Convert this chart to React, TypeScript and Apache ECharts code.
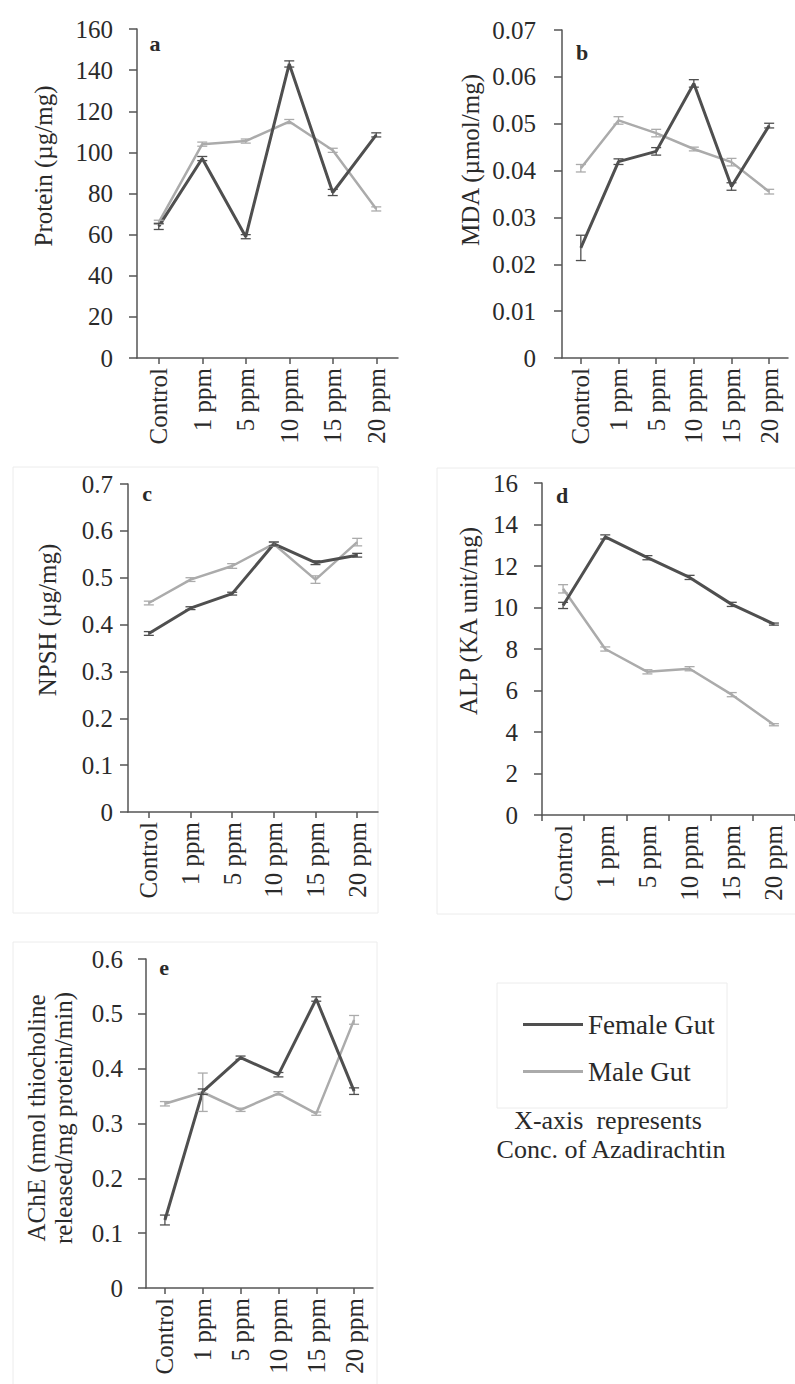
import React, { useEffect, useRef } from "react";
import * as echarts from "echarts";

const categories = ["Control", "1 ppm", "5 ppm", "10 ppm", "15 ppm", "20 ppm"];

const proteinFemale = [64, 97, 59, 143, 80.5, 108.5];
const proteinMale = [66, 104, 105.5, 115, 101, 72.5];
const proteinFemaleErr = [1.5, 1, 1, 1.5, 1.5, 1];
const proteinMaleErr = [1, 1, 1, 1, 1, 1];

const mdaFemale = [0.0235, 0.0419, 0.0441, 0.0586, 0.0366, 0.0496];
const mdaMale = [0.0405, 0.0507, 0.048, 0.0446, 0.0418, 0.0355];
const mdaFemaleErr = [0.0027, 0.0006, 0.0008, 0.0008, 0.0008, 0.0005];
const mdaMaleErr = [0.0008, 0.0008, 0.0008, 0.0004, 0.0008, 0.0005];

const npshFemale = [0.381, 0.435, 0.466, 0.572, 0.532, 0.548];
const npshMale = [0.446, 0.496, 0.525, 0.572, 0.496, 0.576];
const npshFemaleErr = [0.004, 0.003, 0.003, 0.004, 0.004, 0.004];
const npshMaleErr = [0.004, 0.004, 0.005, 0.005, 0.008, 0.008];

const alpFemale = [10.1, 13.4, 12.4, 11.45, 10.15, 9.2];
const alpMale = [10.9, 8.0, 6.9, 7.05, 5.8, 4.35];
const alpFemaleErr = [0.15, 0.1, 0.1, 0.1, 0.1, 0.05];
const alpMaleErr = [0.2, 0.1, 0.1, 0.1, 0.1, 0.05];

const acheFemale = [0.124, 0.358, 0.42, 0.389, 0.527, 0.359];
const acheMale = [0.336, 0.357, 0.325, 0.355, 0.318, 0.489];
const acheFemaleErr = [0.009, 0.005, 0.003, 0.004, 0.004, 0.006];
const acheMaleErr = [0.004, 0.035, 0.003, 0.003, 0.003, 0.008];

const seriesNames = ["Female Gut", "Male Gut"];

const FONT = "Liberation Serif";
const TEXT = "#2a2a2a";
const AXIS = "#555555";
const FEMALE = "#4f4f4f";
const MALE = "#ababab";

const panels = [
  { letter: "a", grid: { left: 137, top: 29, width: 261, height: 329 }, max: 160, interval: 20, dec: 0, margin: 24, between: false,
    female: proteinFemale, male: proteinMale, fErr: proteinFemaleErr, mErr: proteinMaleErr,
    title: "Protein (µg/mg)", titlePos: [43, 166], letterPos: [155, 43] },
  { letter: "b", grid: { left: 562, top: 30, width: 226, height: 328 }, max: 0.07, interval: 0.01, dec: 2, margin: 26, between: false,
    female: mdaFemale, male: mdaMale, fErr: mdaFemaleErr, mErr: mdaMaleErr,
    title: "MDA (µmol/mg)", titlePos: [470, 160], letterPos: [582, 52] },
  { letter: "c", grid: { left: 128, top: 484, width: 250, height: 328 }, max: 0.7, interval: 0.1, dec: 1, margin: 15, between: false,
    female: npshFemale, male: npshMale, fErr: npshFemaleErr, mErr: npshMaleErr,
    title: "NPSH (µg/mg)", titlePos: [47, 620], letterPos: [147, 493] },
  { letter: "d", grid: { left: 542, top: 483, width: 260, height: 332 }, max: 16, interval: 2, dec: 0, margin: 24, between: true,
    female: alpFemale, male: alpMale, fErr: alpFemaleErr, mErr: alpMaleErr,
    title: "ALP (KA unit/mg)", titlePos: [468, 621], letterPos: [562, 495] },
  { letter: "e", grid: { left: 146, top: 959, width: 227, height: 329 }, max: 0.6, interval: 0.1, dec: 1, margin: 23, between: false,
    female: acheFemale, male: acheMale, fErr: acheFemaleErr, mErr: acheMaleErr,
    title: "AChE (nmol thiocholine\nreleased/mg protein/min)", titlePos: [50, 1118], letterPos: [164, 967] },
];

function errorSeries(idx: number, values: number[], errs: number[], color: string, name: string) {
  return {
    type: "custom",
    name,
    xAxisIndex: idx,
    yAxisIndex: idx,
    z: 4,
    silent: true,
    encode: { x: 0, y: [1, 2] },
    data: values.map((v, j) => [j, v - errs[j], v + errs[j]]),
    renderItem: (params: any, api: any) => {
      const j = api.value(0);
      const lo = api.coord([j, api.value(1)]);
      const hi = api.coord([j, api.value(2)]);
      const w = 5;
      const st = { stroke: color, lineWidth: 1.3 };
      return {
        type: "group",
        children: [
          { type: "line", shape: { x1: lo[0], y1: lo[1], x2: hi[0], y2: hi[1] }, style: st },
          { type: "line", shape: { x1: lo[0] - w, y1: lo[1], x2: lo[0] + w, y2: lo[1] }, style: st },
          { type: "line", shape: { x1: hi[0] - w, y1: hi[1], x2: hi[0] + w, y2: hi[1] }, style: st },
        ],
      };
    },
  };
}

export default function App() {
  const ref = useRef<HTMLDivElement>(null);
  useEffect(() => {
    if (!ref.current) return;
    const chart = echarts.init(ref.current, null, { renderer: "svg" });

    const grids = panels.map((p) => ({ ...p.grid, containLabel: false }));
    const xAxes = panels.map((p, i) => ({
      type: "category",
      gridIndex: i,
      data: categories,
      boundaryGap: true,
      axisLine: { lineStyle: { color: AXIS, width: 1.5 } },
      axisTick: { show: true, alignWithLabel: !p.between, length: 6, lineStyle: { color: AXIS, width: 1.5 } },
      axisLabel: { interval: 0, rotate: 90, margin: 10, fontSize: 25, fontFamily: FONT, color: TEXT },
      splitLine: { show: false },
    }));
    const yAxes = panels.map((p, i) => ({
      type: "value",
      gridIndex: i,
      min: 0,
      max: p.max,
      interval: p.interval,
      axisLine: { show: true, lineStyle: { color: AXIS, width: 1.5 } },
      axisTick: { show: true, length: 8, lineStyle: { color: AXIS, width: 1.5 } },
      axisLabel: {
        margin: p.margin,
        fontSize: 25,
        fontFamily: FONT,
        color: TEXT,
        formatter: (v: number) => (Math.abs(v) < 1e-12 ? "0" : v.toFixed(p.dec)),
      },
      splitLine: { show: false },
    }));

    const series: any[] = [];
    panels.forEach((p, i) => {
      series.push({
        type: "line", name: seriesNames[1], xAxisIndex: i, yAxisIndex: i, data: p.male,
        symbol: "none", color: MALE, lineStyle: { color: MALE, width: 2.5 }, z: 2,
      });
      series.push({
        type: "line", name: seriesNames[0], xAxisIndex: i, yAxisIndex: i, data: p.female,
        symbol: "none", color: FEMALE, lineStyle: { color: FEMALE, width: 3 }, z: 3,
      });
      series.push(errorSeries(i, p.male, p.mErr, MALE, "errM" + i));
      series.push(errorSeries(i, p.female, p.fErr, FEMALE, "errF" + i));
    });

    const graphics: any[] = [];
    const frames = [
      [13, 467, 365, 446],
      [437, 468, 370, 446],
      [13, 942, 364, 450],
      [497, 983, 230, 125],
    ];
    frames.forEach(([x, y, w, h]) =>
      graphics.push({ type: "rect", shape: { x, y, width: w, height: h }, style: { fill: "none", stroke: "#ececec", lineWidth: 1 }, silent: true })
    );
    panels.forEach((p) => {
      graphics.push({
        type: "text",
        x: p.titlePos[0],
        y: p.titlePos[1],
        rotation: Math.PI / 2,
        style: { text: p.title, fontSize: 25, lineHeight: 27, fontFamily: FONT, fill: TEXT, align: "center", verticalAlign: "middle" },
      });
      graphics.push({
        type: "text",
        x: p.letterPos[0],
        y: p.letterPos[1],
        style: { text: p.letter, fontSize: 22, fontWeight: "bold", fontFamily: FONT, fill: TEXT, align: "center", verticalAlign: "middle" },
      });
    });
    graphics.push({
      type: "text", x: 608, y: 1120,
      style: { text: "X-axis  represents", fontSize: 26, fontFamily: FONT, fill: TEXT, align: "center", verticalAlign: "middle" },
    });
    graphics.push({
      type: "text", x: 611, y: 1149,
      style: { text: "Conc. of Azadirachtin", fontSize: 26, fontFamily: FONT, fill: TEXT, align: "center", verticalAlign: "middle" },
    });

    chart.setOption({
      animation: false,
      backgroundColor: "#ffffff",
      textStyle: { fontFamily: FONT },
      grid: grids,
      xAxis: xAxes,
      yAxis: yAxes,
      series,
      legend: {
        data: [
          { name: seriesNames[0], icon: "rect", itemStyle: { color: FEMALE } },
          { name: seriesNames[1], icon: "rect", itemStyle: { color: MALE } },
        ],
        orient: "vertical",
        left: 518,
        top: 1006,
        itemWidth: 60,
        itemHeight: 3,
        itemGap: 20,
        textStyle: { fontSize: 27, lineHeight: 27, fontFamily: FONT, color: TEXT },
      },
      graphic: graphics,
    });
    return () => chart.dispose();
  }, []);
  return <div ref={ref} style={{ position: "absolute", left: 0, top: 0, width: 795, height: 1384, background: "#fff" }} />;
}
